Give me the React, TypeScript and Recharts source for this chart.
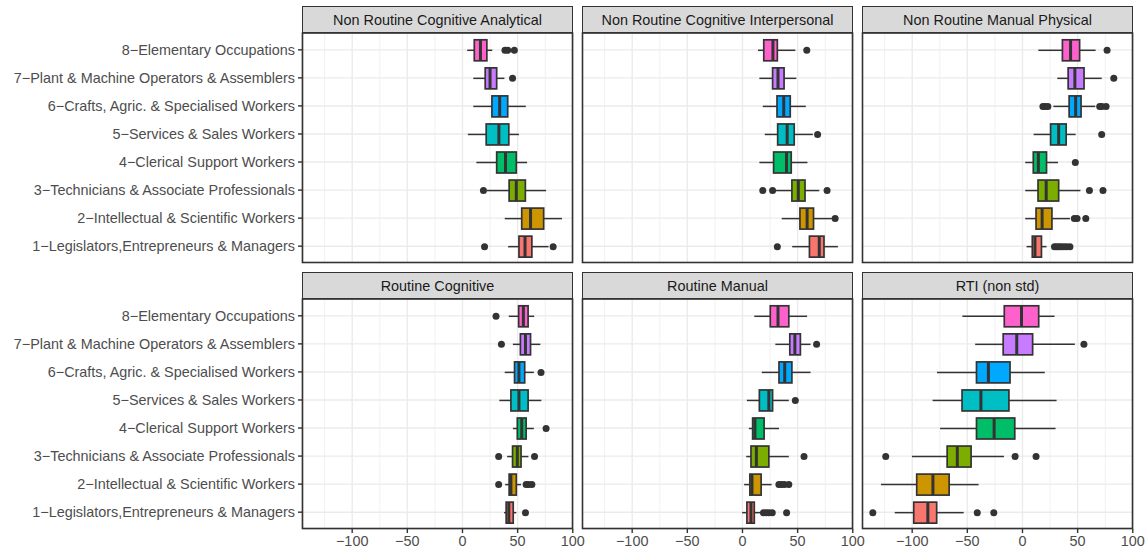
import React from 'react';
import { ComposedChart, Bar, XAxis, YAxis, CartesianGrid } from 'recharts';

// categories, top to bottom
const occupations = [
  '8−Elementary Occupations',
  '7−Plant & Machine Operators & Assemblers',
  '6−Crafts, Agric. & Specialised Workers',
  '5−Services & Sales Workers',
  '4−Clerical Support Workers',
  '3−Technicians & Associate Professionals',
  '2−Intellectual & Scientific Workers',
  '1−Legislators,Entrepreneurs & Managers',
];

const occColors = ['#FF61CC', '#C77CFF', '#00A9FF', '#00BFC4', '#00BE67', '#7CAE00', '#CD9600', '#F8766D'];

const facetTitles = [
  'Non Routine Cognitive Analytical',
  'Non Routine Cognitive Interpersonal',
  'Non Routine Manual Physical',
  'Routine Cognitive',
  'Routine Manual',
  'RTI (non std)',
];

const xTicks = [-100, -50, 0, 50, 100];
const xMinor = [-125, -75, -25, 25, 75];

// [lower whisker, q1, median, q3, upper whisker]
const nrcaStats = [
  [4.3, 10.7, 16.3, 22.1, 27],
  [9.8, 20.6, 25, 31, 38],
  [9.8, 26.7, 33.7, 41, 57.4],
  [4.9, 21.5, 33, 42, 51.2],
  [12.6, 31, 39, 48.8, 58.6],
  [22, 42.3, 48.8, 57, 75.8],
  [38.3, 53.7, 61.7, 73.6, 90.2],
  [41.4, 51.2, 56.7, 62.9, 78],
];
const nrcaOutliers = [[38.5, 41, 47], [45.4], [], [], [], [19], [], [20, 82.2]];

const nrciStats = [
  [14.1, 19.3, 27.6, 31.6, 47.9],
  [15.3, 27.3, 32.2, 37.7, 48.8],
  [18.4, 31.3, 37.4, 43.3, 57.4],
  [20.2, 31.9, 40.5, 46.9, 63.8],
  [15.3, 28.2, 39.9, 44.2, 58.9],
  [29.8, 44.8, 50.6, 56.7, 69.6],
  [35.6, 52.1, 58.6, 64.4, 81],
  [45.1, 60.7, 69.6, 73.9, 86.5],
];
const nrciOutliers = [[58.3], [], [], [68.1], [], [18.4, 27.3, 76.7], [84], [31.6]];

const nrmpStats = [
  [14.4, 36.2, 43.6, 51.8, 66.3],
  [31.6, 41.4, 47.5, 55.8, 71.8],
  [28, 42.3, 48.2, 53.1, 66],
  [10.1, 25.5, 32.8, 39.6, 48.2],
  [2.5, 9.8, 14.4, 21.8, 32.2],
  [2.5, 14.1, 21.5, 32.8, 52.5],
  [2.5, 12.3, 17.8, 26.7, 43],
  [3.7, 8.9, 11.3, 17.2, 21.8],
];
const nrmpOutliers = [
  [76.7], [82.8], [18.5, 20.5, 23, 70, 72, 75.8], [71.8], [47.9], [60.7, 73], [47, 49.5, 57.4],
  [29, 31, 33, 35, 37.5, 40, 43],
];

const rcStats = [
  [42, 50.9, 55.2, 59.5, 65],
  [45.7, 52.5, 57.1, 61.7, 70.6],
  [38.3, 47.2, 51.2, 56.4, 64.7],
  [33.4, 43.9, 51.2, 59.5, 71.5],
  [45.7, 49.7, 53.7, 57.7, 64.7],
  [40.5, 45.4, 49.7, 53.1, 59.8],
  [38.7, 42.3, 43.9, 48.8, 53.1],
  [37.7, 39.6, 42, 46, 48.8],
];
const rcOutliers = [[30.4], [35.3], [71.2], [], [75.8], [32.8, 65.3], [32.8, 57.7, 59.8, 62.9], [57.1]];

const rmStats = [
  [10.7, 25.2, 32.2, 42, 58.6],
  [29.8, 42.9, 47.5, 52.5, 61.7],
  [17.5, 33.1, 38.3, 44.8, 61.7],
  [4, 15.3, 23.9, 27.3, 42],
  [5.8, 9.2, 11.3, 19.6, 33.1],
  [3.4, 7.7, 12.6, 23.9, 42],
  [1.5, 6.7, 8.6, 16.9, 26.4],
  [-0.3, 4, 7.7, 10.7, 16.9],
];
const rmOutliers = [[], [67.2], [], [47.9], [], [55.8], [33, 35.5, 38, 42], [19, 21.5, 24, 27, 40]];

const rtiStats = [
  [-54.5, -16.5, -0.9, 14.7, 29.1],
  [-42.9, -17.5, -5.2, 9.2, 47.5],
  [-77.5, -41.7, -30.9, -11.3, 20.2],
  [-81.5, -54.8, -37.7, -12.3, 30.9],
  [-74.7, -41.7, -25.7, -7, 30],
  [-100.2, -68.3, -59.1, -46.6, -16.8],
  [-128.3, -95.9, -81.2, -66.5, -39.8],
  [-115.8, -98.6, -85.8, -77.8, -53.3],
];
const rtiOutliers = [[], [55.7], [], [], [], [-124, -6.7, 12.3], [], [-135.7, -41, -26]];

const facetStats = [nrcaStats, nrciStats, nrmpStats, rcStats, rmStats, rtiStats];
const facetOutliers = [nrcaOutliers, nrciOutliers, nrmpOutliers, rcOutliers, rmOutliers, rtiOutliers];

const X_DOMAIN: [number, number] = [-145.5, 100.2];
const FONT = '"Liberation Sans", Arial, Helvetica, sans-serif';
const DARK = '#333333';

const COL_X = [302, 582, 862];
const STRIP_Y = [6, 272];
const STRIP_H = 27;
const PANEL_W = 271;
const PANEL_H = 230;
const RIGHT_PAD = 16; // room for the last tick label past the panel edge

const fmtTick = (v: number) => (v < 0 ? `\u2212${Math.abs(v)}` : `${v}`);

const BoxShape = (props: any) => {
  const { x, y, width, height, payload } = props;
  if (!payload || width == null) return null;
  const [lo, q1, med, q3, hi] = payload.stats;
  const px = (v: number) => x + ((v - lo) / (hi - lo)) * width;
  const cy = y + height / 2;
  return (
    <g>
      <line x1={px(lo)} x2={px(q1)} y1={cy} y2={cy} stroke={DARK} strokeWidth={1.5} />
      <line x1={px(q3)} x2={px(hi)} y1={cy} y2={cy} stroke={DARK} strokeWidth={1.5} />
      <rect
        x={px(q1)}
        y={y}
        width={px(q3) - px(q1)}
        height={height}
        fill={payload.color}
        stroke={DARK}
        strokeWidth={1.7}
      />
      <line x1={px(med)} x2={px(med)} y1={y} y2={y + height} stroke={DARK} strokeWidth={3} />
      {payload.outliers.map((o: number, i: number) => (
        <circle key={i} cx={px(o)} cy={cy} r={3.5} fill={DARK} />
      ))}
    </g>
  );
};

const Panel = ({ idx }: { idx: number }) => {
  const col = idx % 3;
  const row = Math.floor(idx / 3);
  const showY = col === 0;
  const showX = row === 1;
  const yAxisW = showY ? COL_X[0] : 0;
  const left = showY ? 0 : COL_X[col];
  const top = STRIP_Y[row] + STRIP_H;
  const width = PANEL_W + yAxisW + RIGHT_PAD;
  const height = PANEL_H + (showX ? 26 : 0);

  const data = occupations.map((name, i) => ({
    name,
    range: [facetStats[idx][i][0], facetStats[idx][i][4]],
    stats: facetStats[idx][i],
    outliers: facetOutliers[idx][i],
    color: occColors[i],
  }));

  return (
    <>
      <div
        style={{
          position: 'absolute',
          left: COL_X[col],
          top: STRIP_Y[row],
          width: PANEL_W,
          height: STRIP_H,
          background: '#D9D9D9',
          boxSizing: 'border-box',
          border: `1px solid ${DARK}`,
          display: 'flex',
          alignItems: 'center',
          justifyContent: 'center',
          fontFamily: FONT,
          fontSize: 14.4,
          color: '#1A1A1A',
        }}
      >
        {facetTitles[idx]}
      </div>
      <div style={{ position: 'absolute', left, top }}>
        <ComposedChart
          width={width}
          height={height}
          data={data}
          layout="vertical"
          margin={{ top: 0, right: RIGHT_PAD, bottom: 0, left: 0 }}
        >
          <CartesianGrid
            horizontal={false}
            verticalValues={xMinor}
            stroke="#EBEBEB"
            strokeWidth={0.7}
          />
          <CartesianGrid stroke="#EBEBEB" strokeWidth={1.4} />
          <XAxis
            type="number"
            domain={X_DOMAIN}
            allowDataOverflow
            ticks={xTicks}
            interval={0}
            hide={!showX}
            height={26}
            tickFormatter={fmtTick}
            axisLine={false}
            tickLine={{ stroke: DARK, strokeWidth: 1.4 }}
            tickSize={4}
            tickMargin={3}
            tick={{ fontSize: 14.4, fill: '#4D4D4D', fontFamily: FONT }}
          />
          <YAxis
            type="category"
            dataKey="name"
            width={yAxisW}
            hide={!showY}
            interval={0}
            padding={{ top: 2.8, bottom: 2.8 }}
            axisLine={false}
            tickLine={{ stroke: DARK, strokeWidth: 1.4 }}
            tickSize={4}
            tickMargin={3}
            tick={{ fontSize: 14.4, fill: '#4D4D4D', fontFamily: FONT }}
          />
          <Bar dataKey="range" barSize={21} shape={BoxShape} isAnimationActive={false} />
        </ComposedChart>
      </div>
      <svg
        style={{ position: 'absolute', left: COL_X[col], top, overflow: 'visible', pointerEvents: 'none' }}
        width={PANEL_W}
        height={PANEL_H}
      >
        <rect x={0.5} y={0} width={PANEL_W - 1} height={PANEL_H - 0.5} fill="none" stroke={DARK} strokeWidth={1.6} />
      </svg>
    </>
  );
};

export default function App() {
  return (
    <div style={{ position: 'absolute', left: 0, top: 0, width: 1148, height: 553, background: '#fff' }}>
      {facetTitles.map((_, i) => (
        <Panel key={i} idx={i} />
      ))}
    </div>
  );
}
